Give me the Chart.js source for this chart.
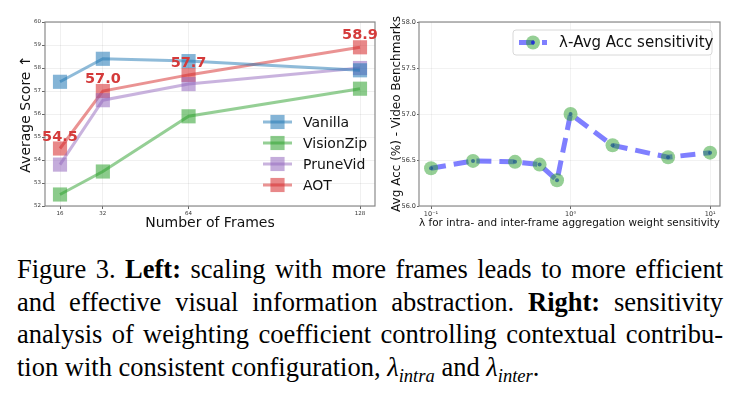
<!DOCTYPE html>
<html><head><meta charset="utf-8">
<script src="https://cdn.jsdelivr.net/npm/chart.js@4/dist/chart.umd.min.js"></script>
<style>
html,body{margin:0;padding:0;background:#fff;width:741px;height:402px;overflow:hidden;position:relative}
#c1{position:absolute;left:0;top:0}
#c2{position:absolute;left:385px;top:0}
#cap{position:absolute;left:17px;top:253px;width:706px;font-family:"Liberation Serif","Times New Roman",serif;font-size:26.5px;line-height:32.5px;color:#000}
.ln{display:block;white-space:nowrap}
.ln span{display:inline}
</style></head><body>
<canvas id="c1" width="385" height="232"></canvas>
<canvas id="c2" width="356" height="232"></canvas>
<div id="cap">
<div class="ln"><span>Figure 3. <b>Left:</b> scaling with more frames leads to more efficient</span></div>
<div class="ln"><span>and effective visual information abstraction. <b>Right:</b> sensitivity</span></div>
<div class="ln"><span>analysis of weighting coefficient controlling contextual contribu-</span></div>
<div class="ln last"><span>tion with consistent configuration, <i>λ</i><sub style="font-size:0.7em"><i>intra</i></sub> and <i>λ</i><sub style="font-size:0.7em"><i>inter</i></sub>.</span></div>
</div>
<script>
// ---------- data ----------
const frames = [16, 32, 64, 128];
const vanilla = [57.4, 58.4, 58.3, 57.9];
const visionZip = [52.5, 53.5, 55.9, 57.1];
const pruneVid = [53.8, 56.6, 57.3, 58.0];
const aot = [54.5, 57.0, 57.7, 58.9];
const seriesNames = ['Vanilla', 'VisionZip', 'PruneVid', 'AOT'];

const lambdas = [0.1, 0.2, 0.4, 0.6, 0.8, 1, 2, 5, 10];
const avgAcc = [56.41, 56.49, 56.48, 56.45, 56.28, 57.00, 56.66, 56.53, 56.58];
const lambdaTicks = [0.1, 1, 10];
const lambdaTickLabels = ['10\u207B\u00B9', '10\u2070', '10\u00B9'];

// ---------- helpers ----------
const FONT = '"DejaVu Sans", sans-serif';
Chart.defaults.font.family = FONT;
Chart.defaults.color = '#333';
const pts = (xs, ys) => xs.map((x, i) => ({x: x, y: ys[i]}));
const rgba = (c, a) => `rgba(${c[0]},${c[1]},${c[2]},${a})`;
const BLUE = [31,119,180], GREEN = [44,160,44], PURPLE = [148,103,189], RED = [214,39,40];

const framePlugin = {
  id: 'frame',
  beforeDatasetsDraw(chart) {
    const a = chart.chartArea, ctx = chart.ctx;
    ctx.save(); ctx.strokeStyle = '#8a8a8a'; ctx.lineWidth = 1.2;
    ctx.strokeRect(a.left, a.top, a.right - a.left, a.bottom - a.top);
    ctx.restore();
  }
};

const legendPlugin = {
  id: 'customLegend',
  afterDraw(chart, args, o) {
    if (!o || !o.rows) return;
    const ctx = chart.ctx;
    ctx.save();
    if (o.box) {
      const b = o.box;
      ctx.fillStyle = 'rgba(255,255,255,0.8)';
      ctx.strokeStyle = '#d8d8d8'; ctx.lineWidth = 1;
      ctx.beginPath(); ctx.roundRect(b[0], b[1], b[2], b[3], 3); ctx.fill(); ctx.stroke();
    }
    chart.data.datasets.forEach((ds, i) => {
      if (ds.noLegend) return;
      const y = o.rows[i];
      ctx.strokeStyle = ds.borderColor; ctx.lineWidth = ds.borderWidth;
      ctx.setLineDash(ds.borderDash || []);
      ctx.beginPath(); ctx.moveTo(o.x1, y); ctx.lineTo(o.x2, y); ctx.stroke();
      ctx.setLineDash([]);
      ctx.fillStyle = ds.pointBackgroundColor;
      const mx = (o.x1 + o.x2) / 2, r = ds.pointRadius;
      if (ds.pointStyle === 'rect') {
        const s = r * Math.SQRT1_2; ctx.fillRect(mx - s, y - s, 2 * s, 2 * s);
      } else {
        ctx.beginPath(); ctx.arc(mx, y, r, 0, Math.PI * 2); ctx.fill();
        if (o.dot) { ctx.fillStyle = o.dot; ctx.beginPath(); ctx.arc(mx, y, 2, 0, Math.PI * 2); ctx.fill(); }
      }
      ctx.fillStyle = '#111'; ctx.font = o.font; ctx.textBaseline = 'middle'; ctx.textAlign = 'left';
      ctx.fillText(ds.label, o.tx, y + 1);
    });
    ctx.restore();
  }
};

const labelPlugin = {
  id: 'valueLabels',
  afterDatasetsDraw(chart, args, o) {
    if (!o || o.index === undefined) return;
    const meta = chart.getDatasetMeta(o.index), ds = chart.data.datasets[o.index];
    const ctx = chart.ctx;
    ctx.save();
    ctx.font = 'bold 14.5px ' + FONT; ctx.fillStyle = '#d43a3a';
    ctx.textAlign = 'center'; ctx.textBaseline = 'alphabetic';
    meta.data.forEach((p, i) => ctx.fillText(ds.data[i].y.toFixed(1), p.x, p.y - 8));
    ctx.restore();
  }
};

const mkDs = (label, c, vals) => ({
  label: label, data: pts(frames, vals), borderColor: rgba(c, 0.5), borderWidth: 3,
  pointStyle: 'rect', pointRadius: 10, pointHoverRadius: 10,
  pointBackgroundColor: rgba(c, 0.55), pointBorderWidth: 0, tension: 0, fill: false
});

new Chart(document.getElementById('c1'), {
  type: 'line',
  data: { datasets: [
    mkDs(seriesNames[0], BLUE, vanilla),
    mkDs(seriesNames[1], GREEN, visionZip),
    mkDs(seriesNames[2], PURPLE, pruneVid),
    mkDs(seriesNames[3], RED, aot)
  ]},
  options: {
    responsive: false, animation: false, devicePixelRatio: 1,
    layout: { padding: { top: 22, right: 6, left: 0, bottom: 0 } },
    plugins: {
      legend: { display: false }, tooltip: { enabled: false },
      customLegend: { rows: [122, 143, 164, 185], x1: 263, x2: 292, tx: 303, font: '14px ' + FONT },
      valueLabels: { index: 3 }
    },
    scales: {
      x: {
        type: 'linear', min: 10.4, max: 133.6,
        afterBuildTicks: s => { s.ticks = frames.map(v => ({value: v})); },
        afterFit: s => { s.height = 26; },
        grid: { color: 'rgba(0,0,0,0.06)', tickLength: 3, tickColor: '#666' },
        border: { display: false },
        ticks: { font: { size: 5.5 }, padding: 1, maxRotation: 0, autoSkip: false, color: '#333' },
        title: { display: true, text: 'Number of Frames', font: { size: 14 }, color: '#111', padding: { top: 0, bottom: 0.6 } }
      },
      y: {
        min: 52, max: 60,
        ticks: { stepSize: 1, font: { size: 5.5 }, padding: 1, color: '#333' },
        afterFit: s => { s.width = 45; },
        grid: { color: 'rgba(0,0,0,0.06)', tickLength: 3, tickColor: '#666' },
        border: { display: false },
        title: { display: true, text: 'Average Score \u2191', font: { size: 14 }, color: '#111', padding: { top: 17.6, bottom: 0 } }
      }
    }
  },
  plugins: [framePlugin, legendPlugin, labelPlugin]
});

new Chart(document.getElementById('c2'), {
  type: 'line',
  data: { datasets: [
    { label: '\u03BB-Avg Acc sensitivity', data: pts(lambdas, avgAcc), borderColor: 'rgba(0,0,255,0.5)',
      borderWidth: 5, borderDash: [15, 8], pointRadius: 7, pointHoverRadius: 7,
      pointBackgroundColor: 'rgba(44,160,44,0.5)', pointBorderWidth: 0, tension: 0 },
    { label: 'dot', noLegend: true, data: pts(lambdas, avgAcc), showLine: false, pointRadius: 2,
      pointBackgroundColor: 'rgba(20,20,230,0.75)', pointBorderWidth: 0, borderColor: 'rgba(0,0,0,0)' }
  ]},
  options: {
    responsive: false, animation: false, devicePixelRatio: 1,
    layout: { padding: { top: 22, right: 21, left: 0, bottom: 0 } },
    plugins: {
      legend: { display: false }, tooltip: { enabled: false },
      customLegend: { rows: [42.5], x1: 134, x2: 162, tx: 174, font: '15px ' + FONT, box: [128, 30, 199, 25], dot: 'rgba(20,20,230,0.75)' }
    },
    scales: {
      x: {
        type: 'logarithmic', min: 0.082, max: 11.78,
        afterBuildTicks: s => { s.ticks = lambdaTicks.map(v => ({value: v})); },
        afterFit: s => { s.height = 26; },
        grid: { color: 'rgba(0,0,0,0.05)', tickLength: 3, tickColor: '#666' },
        border: { display: false },
        ticks: { font: { size: 6.5 }, padding: 1, maxRotation: 0, autoSkip: false, color: '#333',
          callback: (v, i) => lambdaTickLabels[i] },
        title: { display: true, text: '\u03BB for intra- and inter-frame aggregation weight sensitivity', font: { size: 10.5 }, color: '#111', padding: { top: 0, bottom: 2.7 } }
      },
      y: {
        min: 56, max: 58,
        ticks: { stepSize: 0.5, font: { size: 6.5 }, padding: 1, color: '#333', callback: v => Number(v).toFixed(1) },
        afterFit: s => { s.width = 34; },
        grid: { color: 'rgba(0,0,0,0.05)', tickLength: 2, tickColor: '#666' },
        border: { display: false },
        title: { display: true, text: 'Avg Acc (%) - Video Benchmarks', font: { size: 12 }, color: '#111', padding: { top: 4.8, bottom: 0 } }
      }
    }
  },
  plugins: [framePlugin, legendPlugin]
});

// ---------- caption justification ----------
function justify() {
  document.querySelectorAll('#cap .ln').forEach(ln => {
    if (ln.classList.contains('last')) return;
    const sp = ln.querySelector('span');
    sp.style.wordSpacing = '0px';
    const w = sp.getBoundingClientRect().width;
    const n = (sp.textContent.match(/ /g) || []).length;
    if (n) sp.style.wordSpacing = ((706 - w) / n) + 'px';
  });
}
justify();
window.addEventListener('load', justify);
</script>
</body></html>
